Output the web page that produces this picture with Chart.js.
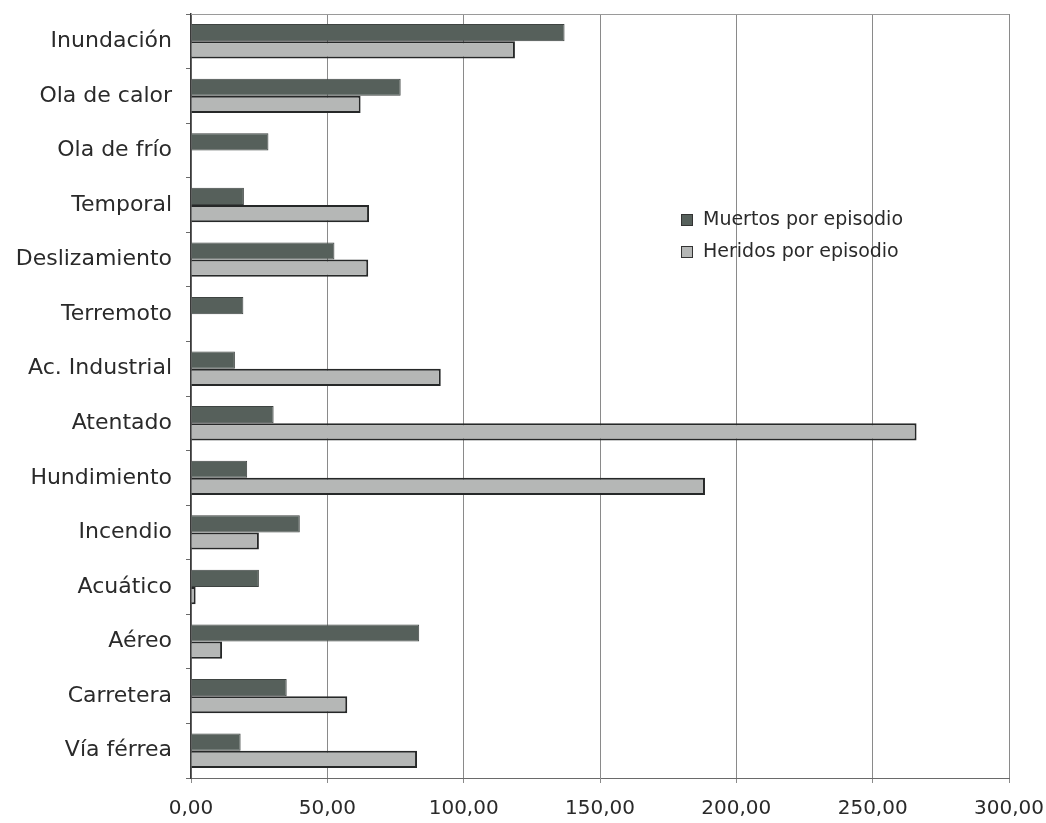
<!DOCTYPE html>
<html>
<head>
<meta charset="utf-8">
<script src="https://cdn.jsdelivr.net/npm/chart.js@4.4.1/dist/chart.umd.min.js"></script>
<style>
  html, body { margin: 0; padding: 0; background: #ffffff; }
  #wrap { width: 1046px; height: 823px; position: relative; }
</style>
</head>
<body>
<div id="wrap"><canvas id="chart" width="1046" height="823"></canvas></div>
<script>
// Tipos de episodio
const categories = [
  'Inundación', 'Ola de calor', 'Ola de frío', 'Temporal', 'Deslizamiento',
  'Terremoto', 'Ac. Industrial', 'Atentado', 'Hundimiento', 'Incendio',
  'Acuático', 'Aéreo', 'Carretera', 'Vía férrea'
];

// Muertos por episodio
const muertos = [137.0, 76.9, 28.4, 19.4, 52.6, 19.2, 16.1, 30.3, 20.6, 39.9, 24.9, 83.7, 35.1, 18.2];

// Heridos por episodio (null = sin dato)
const heridos = [118.8, 62.2, null, 65.3, 65.0, null, 91.6, 266.1, 188.5, 24.9, 1.7, 11.4, 57.3, 82.9];

// Marcas del eje de valores
const xTicks = [0, 50, 100, 150, 200, 250, 300];

const FONT = "'DejaVu Sans', sans-serif";
const fmt = v => Number(v).toFixed(2).replace('.', ',');

// Leyenda dibujada dentro del área del gráfico
const innerLegend = {
  id: 'innerLegend',
  afterDraw(chart) {
    const ctx = chart.ctx;
    const x = 681;
    const y0 = 220;
    ctx.save();
    ctx.font = '19px ' + FONT;
    ctx.textBaseline = 'middle';
    chart.data.datasets.forEach((ds, i) => {
      const y = y0 + i * 32;
      ctx.fillStyle = ds.backgroundColor;
      ctx.fillRect(x, y - 6, 12, 12);
      ctx.strokeStyle = '#333';
      ctx.lineWidth = 1;
      ctx.strokeRect(x + 0.5, y - 5.5, 11, 11);
      ctx.fillStyle = '#2a2a2a';
      ctx.fillText(ds.label, x + 22, y);
    });
    ctx.restore();
  }
};

new Chart(document.getElementById('chart'), {
  type: 'bar',
  data: {
    labels: categories,
    datasets: [
      {
        label: 'Muertos por episodio',
        data: muertos,
        backgroundColor: '#56605b',
        borderColor: '#3e4341',
        borderWidth: 1,
        categoryPercentage: 0.63,
        barPercentage: 1.0
      },
      {
        label: 'Heridos por episodio',
        data: heridos,
        backgroundColor: '#b5b7b6',
        borderColor: '#262828',
        borderWidth: 2,
        categoryPercentage: 0.63,
        barPercentage: 1.0
      }
    ]
  },
  options: {
    indexAxis: 'y',
    responsive: false,
    animation: false,
    layout: { padding: { top: 0, right: 37, left: 0, bottom: 0 } },
    plugins: {
      legend: { display: false },
      tooltip: { enabled: false }
    },
    scales: {
      x: {
        min: 0,
        max: 300,
        afterBuildTicks(scale) {
          scale.ticks = xTicks.map(v => ({ value: v }));
        },
        afterFit(scale) {
          scale.height = 45;
          scale.paddingLeft = 0;
          scale.paddingRight = 0;
        },
        ticks: {
          callback: v => fmt(v),
          color: '#2a2a2a',
          font: { family: FONT, size: 20 },
          padding: 14,
          maxRotation: 0
        },
        grid: {
          color: '#8a8a8a',
          lineWidth: 1,
          tickLength: 5,
          drawTicks: true
        },
        border: { color: '#6a6a6a', width: 1 }
      },
      y: {
        afterFit(scale) {
          scale.width = 191;
          scale.paddingTop = 14;
          scale.paddingBottom = 0;
        },
        ticks: {
          color: '#2a2a2a',
          font: { family: FONT, size: 22 },
          padding: 14
        },
        grid: {
          offset: true,
          drawOnChartArea: false,
          drawTicks: true,
          tickLength: 5,
          color: '#6a6a6a'
        },
        border: { color: '#3a3a3a', width: 1.5 }
      }
    }
  },
  plugins: [innerLegend, {
    id: 'frame',
    afterDraw(chart) {
      const { ctx, chartArea: a } = chart;
      ctx.save();
      ctx.strokeStyle = '#9a9a9a';
      ctx.lineWidth = 1;
      ctx.beginPath();
      ctx.moveTo(a.left, a.top + 0.5);
      ctx.lineTo(a.right, a.top + 0.5);
      ctx.stroke();
      ctx.restore();
    }
  }]
});
</script>
</body>
</html>
